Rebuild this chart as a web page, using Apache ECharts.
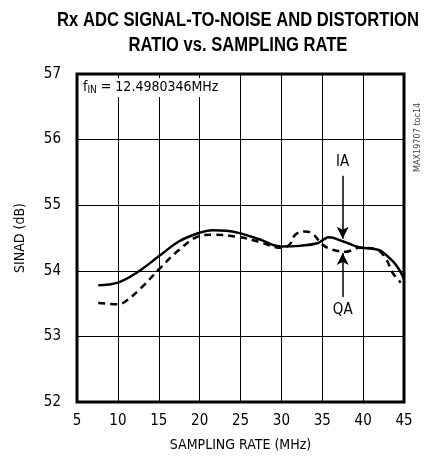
<!DOCTYPE html>
<html>
<head>
<meta charset="utf-8">
<script src="https://cdn.jsdelivr.net/npm/echarts@6/dist/echarts.min.js"></script>
<style>
  html, body { margin: 0; padding: 0; background: #fff; }
  #chart { width: 430px; height: 474px; }
</style>
</head>
<body>
<div id="chart"></div>
<script>
// sampling rate (MHz) vs SINAD (dB)
const iaRate = [7.6, 10, 12.3, 15, 17.5, 20, 21.6, 23.3, 25, 27.3, 30, 32.2, 34.4, 35.2, 35.8, 37.5, 39.5, 41.5, 42.2, 43.6, 44.4, 45]
const iaSinad = [53.78, 53.82, 53.97, 54.22, 54.45, 54.58, 54.62, 54.61, 54.57, 54.48, 54.37, 54.38, 54.42, 54.48, 54.51, 54.45, 54.36, 54.33, 54.3, 54.15, 54.02, 53.88]
const qaRate = [7.6, 10, 11, 13.1, 15, 17.5, 20, 21.6, 25, 27.3, 30, 31, 31.7, 32.8, 33.8, 35, 36.3, 37.9, 39.5, 41.5, 42.8, 43.6, 44.6]
const qaSinad = [53.51, 53.49, 53.54, 53.77, 54.02, 54.32, 54.53, 54.55, 54.51, 54.44, 54.35, 54.4, 54.55, 54.6, 54.57, 54.4, 54.32, 54.29, 54.35, 54.33, 54.18, 53.97, 53.82]
const xTicks = [5, 10, 15, 20, 25, 30, 35, 40, 45]
const yTicks = [52, 53, 54, 55, 56, 57]

const FONT = "'DejaVu Sans Condensed', 'Liberation Sans Narrow', 'Liberation Sans', sans-serif"

const chart = echarts.init(document.getElementById('chart'))

const pairs = (xs, ys) => xs.map((x, i) => [x, ys[i]])

const option = {
  animation: false,
  title: [
    {
      text: '{a|f}{s|IN}{a| = 12.4980346MHz}',
      left: 80,
      top: 77,
      backgroundColor: '#fff',
      padding: [2, 3, 2, 3],
      textStyle: {
        rich: {
          a: { fontFamily: FONT, fontWeight: 'normal', fontSize: 14, color: '#000' },
          s: { fontFamily: FONT, fontWeight: 'normal', fontSize: 10, color: '#000', verticalAlign: 'bottom', padding: [6, 0, 0, 0] }
        }
      }
    }
  ],
  graphic: [
    {
      type: 'text',
      x: 238,
      y: 8,
      scaleX: 0.83,
      style: {
        text: 'Rx ADC SIGNAL-TO-NOISE AND DISTORTION\nRATIO vs. SAMPLING RATE',
        align: 'center',
        fontFamily: "'Liberation Sans', sans-serif",
        fontWeight: 'bold',
        fontSize: 20,
        lineHeight: 25,
        fill: '#000'
      }
    },
    {
      type: 'text',
      x: 413,
      y: 172,
      rotation: Math.PI / 2,
      style: { text: 'MAX19707 toc14', fontFamily: FONT, fontSize: 9, fill: '#444' }
    }
  ],
  grid: { left: 77, right: 26, top: 74, bottom: 72, show: true, borderColor: '#000', borderWidth: 3 },
  xAxis: {
    type: 'value',
    min: xTicks[0],
    max: xTicks[xTicks.length - 1],
    interval: 5,
    name: 'SAMPLING RATE (MHz)',
    nameLocation: 'middle',
    nameGap: 36,
    nameTextStyle: { fontFamily: FONT, fontSize: 14, color: '#000' },
    axisLine: { show: false },
    axisTick: { show: false },
    axisLabel: { fontFamily: FONT, fontSize: 15, color: '#000', margin: 12 },
    splitLine: { show: true, lineStyle: { color: '#000', width: 1 } }
  },
  yAxis: {
    type: 'value',
    min: yTicks[0],
    max: yTicks[yTicks.length - 1],
    interval: 1,
    name: 'SINAD (dB)',
    nameLocation: 'middle',
    nameGap: 50,
    nameTextStyle: { fontFamily: FONT, fontSize: 14, color: '#000' },
    axisLine: { show: false },
    axisTick: { show: false },
    axisLabel: { fontFamily: FONT, fontSize: 15, color: '#000', margin: 16 },
    splitLine: { show: true, lineStyle: { color: '#000', width: 1 } }
  },
  series: [
    {
      name: 'IA',
      type: 'line',
      smooth: 0.4,
      symbol: 'none',
      lineStyle: { color: '#000', width: 2.5 },
      data: pairs(iaRate, iaSinad),
      markLine: {
        silent: true,
        symbol: ['none', 'arrow'],
        symbolSize: [9, 12],
        lineStyle: { color: '#000', width: 1.5, type: 'solid' },
        label: { show: true, position: 'start', formatter: 'IA', fontFamily: FONT, fontSize: 15, color: '#000', distance: 6 },
        data: [[{ coord: [37.5, 55.45] }, { coord: [37.5, 54.49] }]]
      }
    },
    {
      name: 'QA',
      type: 'line',
      smooth: 0.4,
      symbol: 'none',
      lineStyle: { color: '#000', width: 2.5, type: [7, 5] },
      data: pairs(qaRate, qaSinad),
      markLine: {
        silent: true,
        symbol: ['none', 'arrow'],
        symbolSize: [9, 12],
        lineStyle: { color: '#000', width: 1.5, type: 'solid' },
        label: { show: true, position: 'start', formatter: 'QA', fontFamily: FONT, fontSize: 15, color: '#000', distance: 6 },
        data: [[{ coord: [37.5, 53.6] }, { coord: [37.5, 54.27] }]]
      }
    }
  ]
}

chart.setOption(option)
</script>
</body>
</html>
